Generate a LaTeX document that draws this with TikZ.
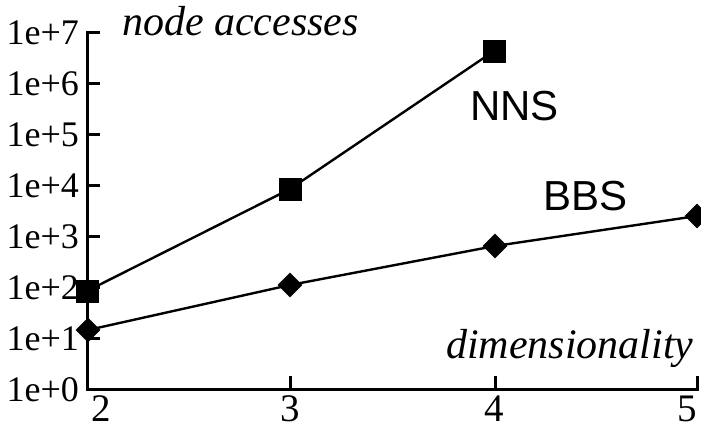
\documentclass[tikz,border=0pt]{standalone}
\usepackage{fontspec}
\setmainfont{Liberation Serif}
\newfontfamily\arialfont{Liberation Sans}
\usetikzlibrary{shapes.geometric}
\tikzset{
  axisline/.style={line width=3pt, line cap=rect},
  tickline/.style={line width=3pt},
  dataline/.style={line width=2.4pt},
  sqmark/.style={rectangle, fill=black, minimum size=23pt, inner sep=0pt},
  diamark/.style={diamond, fill=black, minimum width=25pt, minimum height=25pt, inner sep=0pt},
  ylab/.style={anchor=base east, inner sep=0pt, font=\fontsize{36}{40}\selectfont},
  xlab/.style={anchor=base, inner sep=0pt, font=\fontsize{39}{44}\selectfont},
  title/.style={anchor=base west, inner sep=0pt, font=\fontsize{42}{46}\selectfont\itshape},
  serieslab/.style={anchor=base west, inner sep=0pt, font=\fontsize{42}{46}\selectfont\arialfont}
}
\begin{document}
\begin{tikzpicture}[x=1pt,y=-1pt]
\useasboundingbox (0,0) rectangle (701,429);
% axes
\coordinate (orig) at (87,389);
\coordinate (ytop) at (87,32);
\coordinate (xend) at (697,389);
\draw[axisline] (ytop) -- (orig) -- (xend);
% y ticks and labels
\foreach \k in {0,...,7}{
  \pgfmathsetmacro{\yy}{389-51*\k}
  \draw[tickline] (87,\yy) -- (100,\yy);
  \node[ylab] (yl\k) at (79,\yy+12) {1e+\k};
}
% x ticks and labels
\foreach \d/\xx/\lx in {2/87/101,3/290/290,4/495/494,5/697/687}{
  \draw[tickline] (\xx,389) -- (\xx,376);
  \node[xlab] (xl\d) at (\lx,421) {\d};
}
% axis titles
\node[title] (ytitle) at (122,35) {node accesses};
\node[title] (xtitle) at (446,358) {dimensionality};
% NNS series
\node[sqmark] (n2) at (87,291) {};
\node[sqmark] (n3) at (290,189) {};
\node[sqmark] (n4) at (494,51) {};
\draw[dataline] (n2.center) -- (n3.center) -- (n4.center);
% BBS series
\node[diamark] (b2) at (88,330) {};
\node[diamark] (b3) at (290,285) {};
\node[diamark] (b4) at (495,246) {};
\node[diamark] (b5) at (697,216) {};
\draw[dataline] (b2.center) -- (b3.center) -- (b4.center) -- (b5.center);
% series labels
\node[serieslab] (nns) at (470,120) {NNS};
\node[serieslab] (bbs) at (543,210) {BBS};
\end{tikzpicture}
\end{document}
